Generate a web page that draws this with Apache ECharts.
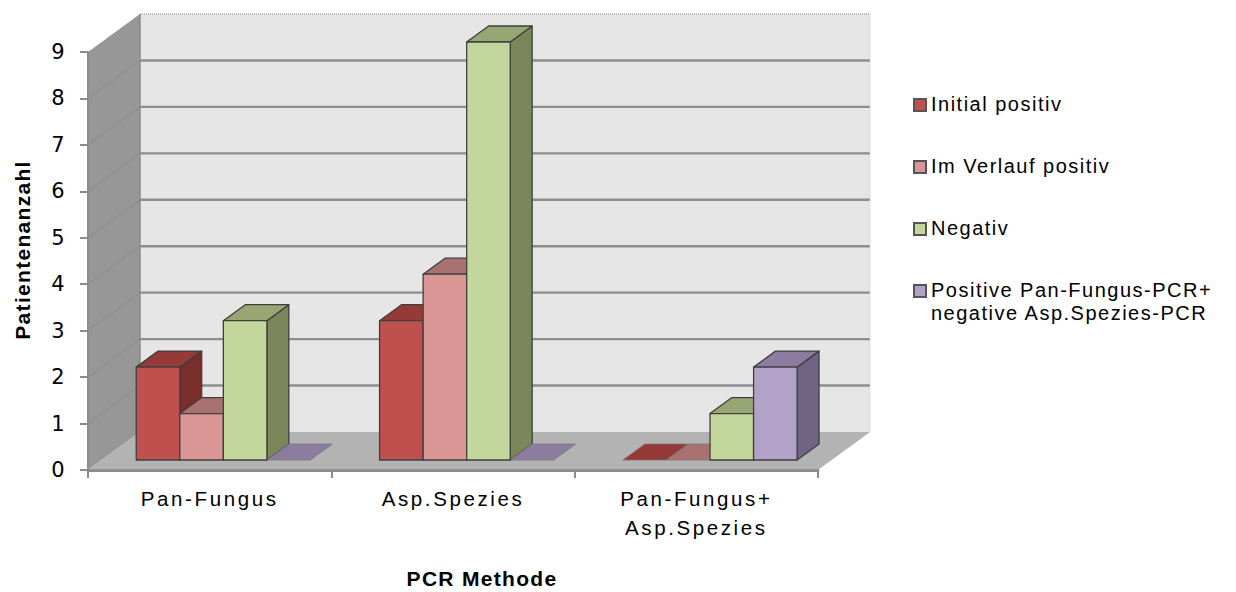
<!DOCTYPE html>
<html>
<head>
<meta charset="utf-8">
<script src="https://cdn.jsdelivr.net/npm/echarts@6/dist/echarts.min.js"></script>
<style>
  html, body { margin: 0; padding: 0; background: #ffffff; }
  #chart { width: 1236px; height: 592px; }
  #chart text { letter-spacing: 2.6px; }
  #chart text[style*="20px"] { letter-spacing: 1.5px; }
  #chart text[style*="21px"] { letter-spacing: 1.3px; }
</style>
</head>
<body>
<div id="chart"></div>
<script>
// ---- data ----
const categories = ['Pan-Fungus', 'Asp.Spezies', 'Pan-Fungus+\nAsp.Spezies'];
const seriesNames = [
  'Initial positiv',
  'Im Verlauf positiv',
  'Negativ',
  'Positive Pan-Fungus-PCR+\nnegative Asp.Spezies-PCR'
];
const initialPositiv   = [2, 3, 0];
const imVerlaufPositiv = [1, 4, 0];
const negativ          = [3, 9, 1];
const panPosAspNeg     = [0, 0, 2];
const yTickLabels = ['0', '1', '2', '3', '4', '5', '6', '7', '8', '9'];

const seriesValues = [initialPositiv, imVerlaufPositiv, negativ, panPosAspNeg];

// ---- look of the 3D box ----
const DEPTH_X = 52;     // horizontal shift from front plane to back wall
const DEPTH_Y = -38;    // vertical shift from front plane to back wall
const BAR_NEAR = 10 / 38;  // bar front face, as a share of the depth
const BAR_FAR = 26 / 38;   // bar back face
const BAR_SHARE = 0.179;   // bar width as a share of the category band

const faces = [
  { front: '#c0504d', top: '#953a37', side: '#7b2d2b' },
  { front: '#d99694', top: '#a9716f', side: '#8c5d5c' },
  { front: '#c3d69b', top: '#97a673', side: '#7b875b' },
  { front: '#b3a2c7', top: '#8b7ca0', side: '#6f6484' }
];
const EDGE = '#3f3f3f';

const yMin = Number(yTickLabels[0]);
const yMax = Number(yTickLabels[yTickLabels.length - 1]);

function poly(points, fill, stroke, lw, z2) {
  return {
    type: 'polygon',
    z2: z2 || 0,
    shape: { points: points },
    style: { fill: fill, stroke: stroke || null, lineWidth: lw || 0, lineJoin: 'round' }
  };
}
function seg(x1, y1, x2, y2, stroke, lw, dash, z2) {
  return {
    type: 'line',
    z2: z2 || 0,
    shape: { x1: x1, y1: y1, x2: x2, y2: y2 },
    style: { stroke: stroke, lineWidth: lw, lineDash: dash || null }
  };
}

// walls, floor and grid lines of the box
function renderFrame(params, api) {
  const cs = params.coordSys;
  const L = cs.x, R = cs.x + cs.width;
  const y0 = api.coord([0, yMin])[1];
  const yT = api.coord([0, yMax])[1];
  const dx = DEPTH_X, dy = DEPTH_Y;
  const kids = [];
  // back wall
  kids.push(poly([[L + dx, yT + dy], [R + dx, yT + dy], [R + dx, y0 + dy], [L + dx, y0 + dy]], '#e6e6e6', null, 0, 1));
  // left wall
  kids.push(poly([[L, y0], [L, yT], [L + dx, yT + dy], [L + dx, y0 + dy]], '#979797', null, 0, 1));
  // floor
  kids.push(poly([[L, y0], [R, y0], [R + dx, y0 + dy], [L + dx, y0 + dy]], '#b3b3b3', null, 0, 2));
  for (let v = yMin + 1; v < yMax; v++) {
    const y = api.coord([0, v])[1];
    kids.push(seg(L + dx, y + dy, R + dx, y + dy, '#8e8e8e', 2.4, null, 3));
    kids.push(seg(L, y, L + dx, y + dy, '#8a8a8a', 1, null, 3));
  }
  // wall edges
  kids.push(seg(L + dx, yT + dy, R + dx, yT + dy, '#a6a6a6', 1.5, [1, 1], 4));
  kids.push(seg(R + dx, yT + dy, R + dx, y0 + dy, '#cfcfcf', 1, [1, 1], 4));
  kids.push(seg(L + dx, yT + dy, L + dx, y0 + dy, '#8a8a8a', 1.5, null, 4));
  return { type: 'group', children: kids };
}

// one 3D column: front, top and right side faces
function makeBarRenderer(si) {
  return function (params, api) {
    const ci = api.value(0);
    const v = api.value(1);
    const base = api.coord([ci, 0]);
    const topPt = api.coord([ci, v]);
    const band = api.size([1, 0])[0];
    const w = band * BAR_SHARE;
    const x0 = base[0] - 2 * w + si * w;
    const x1 = x0 + w;
    const nx = DEPTH_X * BAR_NEAR, ny = DEPTH_Y * BAR_NEAR;
    const fx = DEPTH_X * BAR_FAR, fy = DEPTH_Y * BAR_FAR;
    const yb = base[1], yt = topPt[1];
    const c = faces[si];
    const kids = [];
    const topFace = [[x0 + nx, yt + ny], [x0 + fx, yt + fy], [x1 + fx, yt + fy], [x1 + nx, yt + ny]];
    if (v > 0) {
      kids.push(poly([[x1 + nx, yt + ny], [x1 + fx, yt + fy], [x1 + fx, yb + fy], [x1 + nx, yb + ny]], c.side, EDGE, 1.3, 1));
      kids.push(poly(topFace, c.top, EDGE, 1.3, 2));
      kids.push(poly([[x0 + nx, yt + ny], [x1 + nx, yt + ny], [x1 + nx, yb + ny], [x0 + nx, yb + ny]], c.front, EDGE, 1.3, 3));
    } else {
      kids.push(poly(topFace, c.top, '#7a7a7a', 0.8, 2));
    }
    return { type: 'group', children: kids };
  };
}

const chart = echarts.init(document.getElementById('chart'), null, { renderer: 'svg' });

const series = [{
  type: 'custom',
  name: 'frame',
  z: 1,
  silent: true,
  clip: false,
  renderItem: renderFrame,
  data: [[0, 0]]
}];
seriesValues.forEach(function (vals, si) {
  series.push({
    type: 'custom',
    name: seriesNames[si],
    z: 2,
    clip: false,
    itemStyle: { color: faces[si].front },
    renderItem: makeBarRenderer(si),
    data: vals.map(function (v, ci) { return [ci, v]; })
  });
});

// legend drawn as plain shapes and text
const legendCenters = [104, 166, 228, 290];
const legendGraphics = [];
seriesNames.forEach(function (name, si) {
  const cy = legendCenters[si];
  legendGraphics.push({
    type: 'rect',
    left: 913, top: cy - 6,
    shape: { width: 12, height: 12 },
    style: { fill: faces[si].front, stroke: '#555555', lineWidth: 2 }
  });
  legendGraphics.push({
    type: 'text',
    x: 931, y: cy - 11.5,
    style: {
      text: name,
      fontFamily: 'Liberation Sans',
      fontSize: 20,
      lineHeight: 23,
      fill: '#000000',
      textAlign: 'left',
      textVerticalAlign: 'top'
    }
  });
});

chart.setOption({
  animation: false,
  grid: { left: 88, right: 418, top: 52, bottom: 122 },
  xAxis: {
    type: 'category',
    data: categories,
    z: 5,
    axisLine: { show: true, lineStyle: { color: '#8c8c8c', width: 3, type: [1, 2] } },
    axisTick: { show: true, length: 8, lineStyle: { color: '#8c8c8c', width: 2 } },
    axisLabel: {
      interval: 0,
      margin: 14,
      color: '#000000',
      fontFamily: 'Liberation Sans',
      fontSize: 20.5,
      lineHeight: 29
    },
    splitLine: { show: false }
  },
  yAxis: {
    type: 'value',
    min: yMin,
    max: yMax,
    interval: 1,
    z: 5,
    axisLine: { show: true, lineStyle: { color: '#8c8c8c', width: 2 } },
    axisTick: { show: true, length: 8, lineStyle: { color: '#8c8c8c', width: 2 } },
    axisLabel: {
      margin: 22,
      color: '#000000',
      fontFamily: 'DejaVu Sans',
      fontSize: 21,
      formatter: function (v) { return yTickLabels[v - yMin]; }
    },
    splitLine: { show: false }
  },
  graphic: [
    {
      type: 'text',
      x: 22, y: 250,
      rotation: Math.PI / 2,
      style: {
        text: 'Patientenanzahl',
        fontFamily: 'Liberation Sans',
        fontWeight: 'bold',
        fontSize: 21,
        fill: '#000000',
        textAlign: 'center',
        textVerticalAlign: 'middle'
      }
    },
    {
      type: 'text',
      x: 482, y: 578,
      style: {
        text: 'PCR Methode',
        fontFamily: 'Liberation Sans',
        fontWeight: 'bold',
        fontSize: 21,
        fill: '#000000',
        textAlign: 'center',
        textVerticalAlign: 'middle'
      }
    }
  ].concat(legendGraphics),
  series: series
});
</script>
</body>
</html>
